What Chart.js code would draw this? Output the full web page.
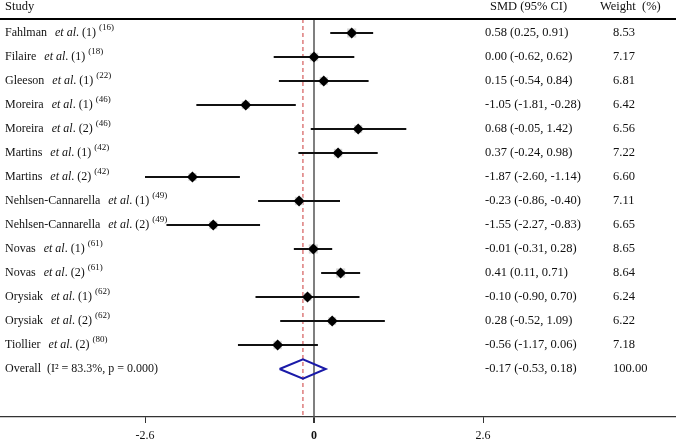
<!DOCTYPE html>
<html>
<head>
<meta charset="utf-8">
<script src="https://cdn.jsdelivr.net/npm/chart.js@4"></script>
<style>
  html, body { margin: 0; padding: 0; background: #fff; }
  #wrap { width: 676px; height: 441px; position: relative; }
</style>
</head>
<body>
<div id="wrap"><canvas id="forest"></canvas></div>
<script>
// study rows
const authors = ['Fahlman', 'Filaire', 'Gleeson', 'Moreira', 'Moreira', 'Martins', 'Martins',
  'Nehlsen-Cannarella', 'Nehlsen-Cannarella', 'Novas', 'Novas', 'Orysiak', 'Orysiak', 'Tiollier'];
const subNums = ['(1)', '(1)', '(1)', '(1)', '(2)', '(1)', '(2)', '(1)', '(2)', '(1)', '(2)', '(1)', '(2)', '(2)'];
const refs = ['16', '18', '22', '46', '46', '42', '42', '49', '49', '61', '61', '62', '62', '80'];
const smd = [0.58, 0.00, 0.15, -1.05, 0.68, 0.37, -1.87, -0.23, -1.55, -0.01, 0.41, -0.10, 0.28, -0.56];
const ciLow = [0.25, -0.62, -0.54, -1.81, -0.05, -0.24, -2.60, -0.86, -2.27, -0.31, 0.11, -0.90, -0.52, -1.17];
const ciHigh = [0.91, 0.62, 0.84, -0.28, 1.42, 0.98, -1.14, 0.40, -0.83, 0.28, 0.71, 0.70, 1.09, 0.06];
const smdText = ['0.58 (0.25, 0.91)', '0.00 (-0.62, 0.62)', '0.15 (-0.54, 0.84)', '-1.05 (-1.81, -0.28)',
  '0.68 (-0.05, 1.42)', '0.37 (-0.24, 0.98)', '-1.87 (-2.60, -1.14)', '-0.23 (-0.86, -0.40)',
  '-1.55 (-2.27, -0.83)', '-0.01 (-0.31, 0.28)', '0.41 (0.11, 0.71)', '-0.10 (-0.90, 0.70)',
  '0.28 (-0.52, 1.09)', '-0.56 (-1.17, 0.06)'];
const weights = ['8.53', '7.17', '6.81', '6.42', '6.56', '7.22', '6.60', '7.11', '6.65', '8.65', '8.64', '6.24', '6.22', '7.18'];

// pooled estimate
const overallLabel = 'Overall  (I\u00B2 = 83.3%, p = 0.000)';
const overallSmd = -0.17;
const overallLow = -0.53;
const overallHigh = 0.18;
const overallText = '-0.17 (-0.53, 0.18)';
const overallWeight = '100.00';

const xTicks = [-2.6, 0, 2.6];

const X_MIN = -4.8308, X_MAX = 5.5692;
const Y_MIN = 0.4167, Y_MAX = 17;
const overallRow = authors.length + 1;
const serif = "'Liberation Serif', 'Times New Roman', serif";
const FS = '12.5px ';

const pointData = smd.map((v, i) => ({ x: v, y: i + 1 }));
const boxData = smd.map((v, i) => ({ x: v, y: i + 1 }));
const boxRadius = weights.map(w => Math.sqrt(parseFloat(w)) * 2.2);
const ciData = [];
ciLow.forEach((lo, i) => {
  ciData.push({ x: lo, y: i + 1 }, { x: ciHigh[i], y: i + 1 }, { x: NaN, y: NaN });
});
const diamondData = [
  { x: overallLow, y: overallRow },
  { x: overallSmd, y: overallRow - 0.4 },
  { x: overallHigh, y: overallRow },
  { x: overallSmd, y: overallRow + 0.4 },
  { x: overallLow, y: overallRow }
];

const textColumns = {
  id: 'textColumns',
  afterDraw(chart) {
    const ctx = chart.ctx;
    const ys = chart.scales.y;
    const top = chart.chartArea.top;
    ctx.save();
    ctx.fillStyle = '#111';
    ctx.textBaseline = 'middle';

    // header
    ctx.font = FS + serif;
    ctx.fillText('Study', 5, 7);
    ctx.fillText('SMD (95% CI)', 490, 7);
    ctx.fillText('Weight  (%)', 600, 7);
    ctx.strokeStyle = '#000';
    ctx.lineWidth = 2;
    ctx.beginPath();
    ctx.moveTo(0, top);
    ctx.lineTo(chart.width, top);
    ctx.stroke();

    authors.forEach((name, i) => {
      const y = ys.getPixelForValue(i + 1);
      let x = 5;
      ctx.font = '12px ' + serif;
      ctx.fillText(name, x, y);
      x += ctx.measureText(name).width + 8;
      ctx.font = 'italic 12px ' + serif;
      ctx.fillText('et al', x, y);
      x += ctx.measureText('et al').width;
      ctx.font = '12px ' + serif;
      const mid = '. ' + subNums[i] + ' ';
      ctx.fillText(mid, x, y);
      x += ctx.measureText(mid).width;
      ctx.font = '9px ' + serif;
      ctx.fillText('(' + refs[i] + ')', x, y - 5);

      ctx.font = FS + serif;
      ctx.fillText(smdText[i], 485, y);
      ctx.fillText(weights[i], 613, y);
    });

    const yo = ys.getPixelForValue(overallRow);
    ctx.font = '12px ' + serif;
    ctx.fillText(overallLabel, 5, yo);
    ctx.font = FS + serif;
    ctx.fillText(overallText, 485, yo);
    ctx.fillText(overallWeight, 613, yo);
    ctx.restore();
  }
};

new Chart(document.getElementById('forest'), {
  type: 'scatter',
  data: {
    datasets: [
      {
        data: pointData,
        pointStyle: 'rectRot',
        pointRadius: 5.5,
        backgroundColor: '#000',
        borderColor: '#000',
        borderWidth: 0,
        order: 0
      },
      {
        data: boxData,
        pointStyle: 'rect',
        pointRadius: boxRadius,
        backgroundColor: '#d6d6d6',
        borderColor: '#d6d6d6',
        borderWidth: 0,
        order: 1
      },
      {
        type: 'line',
        data: ciData,
        borderColor: '#111',
        borderWidth: 2,
        pointRadius: 0,
        spanGaps: false,
        order: 2
      },
      {
        type: 'line',
        data: diamondData,
        borderColor: '#1a1aa8',
        borderWidth: 2,
        pointRadius: 0,
        fill: false,
        order: 3
      },
      {
        type: 'line',
        data: [{ x: 0, y: Y_MIN }, { x: 0, y: Y_MAX }],
        borderColor: '#555',
        borderWidth: 1.5,
        pointRadius: 0,
        order: 4
      },
      {
        type: 'line',
        data: [{ x: overallSmd, y: Y_MIN }, { x: overallSmd, y: Y_MAX }],
        borderColor: '#cc3a3a',
        borderWidth: 1,
        borderDash: [4, 3],
        pointRadius: 0,
        order: 5
      }
    ]
  },
  options: {
    responsive: true,
    maintainAspectRatio: false,
    animation: false,
    layout: { autoPadding: false, padding: { top: 19, left: 0, right: 0, bottom: 0 } },
    plugins: {
      legend: { display: false },
      tooltip: { enabled: false }
    },
    scales: {
      x: {
        type: 'linear',
        min: X_MIN,
        max: X_MAX,
        afterBuildTicks: scale => { scale.ticks = xTicks.map(v => ({ value: v })); },
        afterFit: scale => { scale.height = 24; },
        grid: {
          drawOnChartArea: false,
          drawTicks: true,
          tickLength: 6,
          color: '#333',
          lineWidth: c => (c.tick && c.tick.value === 0 ? 2 : 1)
        },
        border: { display: true, color: '#333', width: 1.2 },
        ticks: {
          color: '#111',
          padding: 6,
          maxRotation: 0,
          font: c => ({ family: serif, size: 12, weight: c.tick && c.tick.value === 0 ? 'bold' : 'normal' }),
          callback: v => (v === 0 ? '0' : v.toFixed(1))
        }
      },
      y: {
        type: 'linear',
        min: Y_MIN,
        max: Y_MAX,
        reverse: true,
        display: false
      }
    }
  },
  plugins: [textColumns]
});
</script>
</body>
</html>
